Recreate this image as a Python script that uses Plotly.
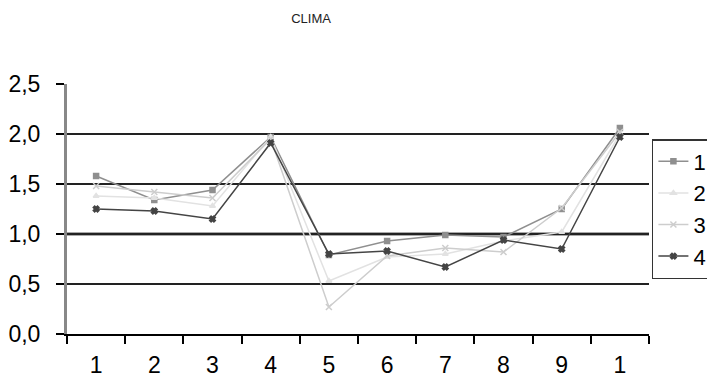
import plotly.graph_objects as go

categories = ["1", "2", "3", "4", "5", "6", "7", "8", "9", "10"]
tick_labels = ["1", "2", "3", "4", "5", "6", "7", "8", "9", "1"]
series_names = ["1", "2", "3", "4"]
s1 = [1.58, 1.34, 1.44, 1.97, 0.79, 0.93, 0.99, 0.97, 1.25, 2.06]
s2 = [1.38, 1.36, 1.28, 1.97, 0.53, 0.77, 0.80, 0.93, 1.02, 2.00]
s3 = [1.48, 1.42, 1.36, 1.95, 0.27, 0.78, 0.86, 0.82, 1.26, 2.02]
s4 = [1.25, 1.23, 1.15, 1.91, 0.80, 0.83, 0.67, 0.94, 0.85, 1.97]
y_ticks = [0.0, 0.5, 1.0, 1.5, 2.0, 2.5]
y_tick_labels = ["0,0", "0,5", "1,0", "1,5", "2,0", "2,5"]

styles = [
    dict(color="#8f8f8f", symbol="square", msize=5, lw=1.5),
    dict(color="#e2e2e2", symbol="triangle-up", msize=5, lw=1.5),
    dict(color="#cdcdcd", symbol="x-thin", msize=6, lw=1.5),
    dict(color="#444444", symbol="x", msize=5, lw=1.5),
]

fig = go.Figure()
for name, vals, st in zip(series_names, [s1, s2, s3, s4], styles):
    fig.add_trace(go.Scatter(
        x=categories, y=vals, name=name, mode="lines+markers",
        line=dict(color=st["color"], width=st["lw"]),
        marker=dict(symbol=st["symbol"], size=st["msize"], color=st["color"],
                    line=dict(color=st["color"], width=1.5)),
    ))

fig.add_shape(type="line", xref="paper", yref="y", x0=0, x1=1, y0=1.0, y1=1.0,
              line=dict(color="#555555", width=3), layer="below")

fig.update_layout(
    width=707, height=380,
    margin=dict(l=67, r=58, t=84, b=46, autoexpand=False),
    paper_bgcolor="white", plot_bgcolor="white",
    font=dict(family="Liberation Sans, Arial, sans-serif", color="black"),
    title=dict(text="CLIMA", x=0.44, xanchor="center", y=0.952, yanchor="middle",
               font=dict(size=13, color="#222222")),
    xaxis=dict(
        type="category", categoryorder="array", categoryarray=categories,
        tickvals=categories, ticktext=tick_labels, tickson="boundaries",
        ticks="outside", ticklen=8, tickwidth=1.5, tickcolor="black",
        showline=True, linecolor="black", linewidth=1.5,
        showgrid=False, tickfont=dict(size=23), range=[-0.5, 9.5],
        ticklabelstandoff=10,
    ),
    yaxis=dict(
        range=[0, 2.5], tickvals=y_ticks, ticktext=y_tick_labels,
        showgrid=True, gridcolor="#222222", gridwidth=1.5,
        ticks="outside", ticklen=8, tickcolor="black", tickwidth=1.5,
        showline=True, linecolor="#888888", linewidth=3,
        tickfont=dict(size=23), zeroline=False, ticklabelstandoff=11,
    ),
    legend=dict(
        x=1.005, y=0.78, xanchor="left", yanchor="top",
        bordercolor="#333333", borderwidth=1.5, bgcolor="white",
        font=dict(size=22), itemwidth=30, tracegroupgap=0,
    ),
)

fig.write_html("out.html")
